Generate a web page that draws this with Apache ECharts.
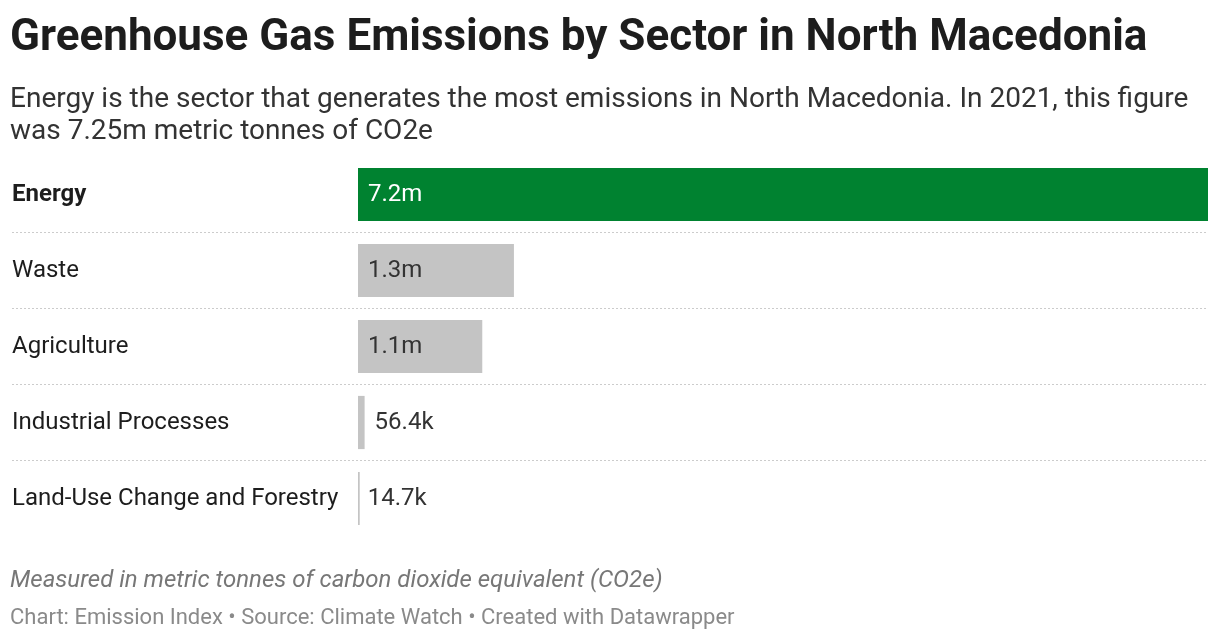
<!DOCTYPE html>
<html>
<head>
<meta charset="utf-8">
<script src="https://cdn.jsdelivr.net/npm/echarts@6/dist/echarts.min.js"></script>
<style>
  html, body { margin: 0; padding: 0; background: #fff; }
  #chart { width: 1220px; height: 640px; }
</style>
</head>
<body>
<div id="chart"></div>
<script>
// data
var sectors = ['Energy', 'Waste', 'Agriculture', 'Industrial Processes', 'Land-Use Change and Forestry'];
var emissions = [7250000, 1330000, 1060000, 56400, 14700];
var valueLabels = ['7.2m', '1.3m', '1.1m', '56.4k', '14.7k'];

var chart = echarts.init(document.getElementById('chart'));

// bars start at x=358 while labels and separators start at x=12
var plotLeft = 12, plotRight = 1208, barStart = 358;
var maxVal = emissions[0];
var minVal = -maxVal * (barStart - plotLeft) / (plotRight - barStart);

var barData = emissions.map(function (v, i) {
    var big = v > 500000;
    return {
        value: v,
        itemStyle: { color: i === 0 ? '#008230' : '#c4c4c4' },
        label: {
            show: true,
            position: big ? 'insideLeft' : 'right',
            distance: big ? 10 : (v < 30000 ? 8 : 10),
            color: i === 0 ? '#ffffff' : '#333333',
            formatter: valueLabels[i]
        }
    };
});

var option = {
    backgroundColor: '#ffffff',
    textStyle: { fontFamily: 'Roboto' },
    title: [{
        text: 'Greenhouse Gas Emissions by Sector in North Macedonia',
        left: 5,
        top: 12,
        textStyle: { fontFamily: 'Roboto', fontWeight: 'bold', fontSize: 44, color: '#1d1d1d' }
    }, {
        text: 'Energy is the sector that generates the most emissions in North Macedonia. In 2021, this figure\nwas 7.25m metric tonnes of CO2e',
        left: 5,
        top: 79,
        textStyle: { fontFamily: 'Roboto', fontWeight: 'normal', fontSize: 28, lineHeight: 32, color: '#333333' }
    }, {
        text: 'Measured in metric tonnes of carbon dioxide equivalent (CO2e)',
        left: 5,
        top: 564,
        textStyle: { fontFamily: 'Roboto', fontWeight: 'normal', fontStyle: 'italic', fontSize: 24, color: '#777777' }
    }, {
        text: 'Chart: Emission Index \u2022 Source: Climate Watch \u2022 Created with Datawrapper',
        left: 5,
        top: 602,
        textStyle: { fontFamily: 'Roboto', fontWeight: 'normal', fontSize: 22, color: '#8a8a8a' }
    }],
    grid: {
        left: plotLeft,
        right: 1220 - plotRight,
        top: 156.5,
        bottom: 103.5,
        containLabel: false
    },
    xAxis: {
        type: 'value',
        min: minVal,
        max: maxVal,
        show: false
    },
    yAxis: {
        type: 'category',
        inverse: true,
        data: sectors,
        axisLine: { show: false },
        axisTick: { show: false },
        axisLabel: {
            inside: true,
            margin: 0,
            align: 'left',
            fontSize: 24,
            color: '#1d1d1d',
            formatter: function (val, idx) {
                return idx === 0 ? '{b|' + val + '}' : val;
            },
            rich: {
                b: { fontWeight: 'bold', fontSize: 24, color: '#1d1d1d', fontFamily: 'Roboto' }
            }
        },
        splitLine: {
            show: true,
            lineStyle: {
                color: ['transparent', '#cccccc', '#cccccc', '#cccccc', '#cccccc', 'transparent'],
                type: [2, 2],
                width: 1
            }
        }
    },
    series: [{
        type: 'bar',
        data: barData,
        barCategoryGap: '30%',
        silent: true,
        label: { fontSize: 24, fontFamily: 'Roboto' }
    }]
};

chart.setOption(option);
</script>
</body>
</html>
